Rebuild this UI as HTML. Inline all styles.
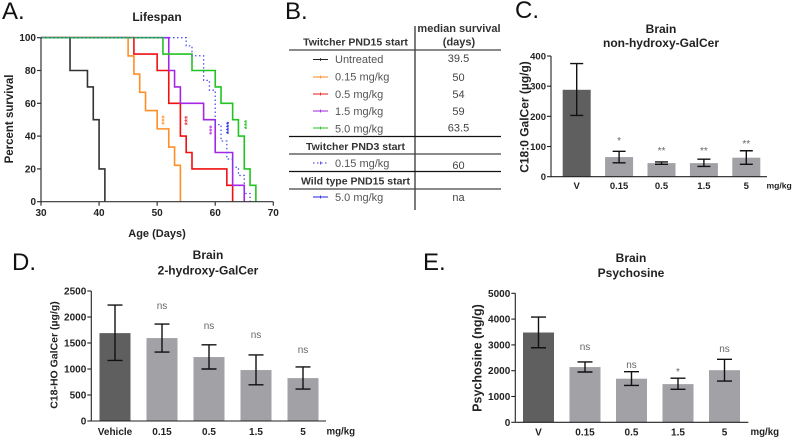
<!DOCTYPE html>
<html lang="en">
<head>
<meta charset="utf-8">
<title>Lifespan and brain lipid figure</title>
<style>
html,body{margin:0;padding:0;background:#fff;width:793px;height:439px;overflow:hidden}
svg{display:block;font-family:"Liberation Sans",sans-serif;filter:blur(0.3px)}
.letter{font-size:24px;fill:#111}
.title{font-size:12px;font-weight:bold;fill:#222;text-anchor:middle}
.tick{font-size:10px;font-weight:bold;fill:#222}
.axt{font-size:11px;font-weight:bold;fill:#222;text-anchor:middle}
.thead{font-size:10.5px;font-weight:bold;fill:#333;text-anchor:middle}
.row{font-size:11px;fill:#555}
.val{font-size:11px;fill:#444;text-anchor:middle}
.sig{font-size:10px;fill:#666;text-anchor:middle}
</style>
</head>
<body>
<svg id="fig" xmlns="http://www.w3.org/2000/svg" width="793" height="439" viewBox="0 0 793 439">
  <text class="letter" x="2" y="19">A.</text>
  <text class="letter" x="285" y="19">B.</text>
  <text class="letter" x="515" y="18">C.</text>
  <text class="letter" x="12" y="270">D.</text>
  <text class="letter" x="423" y="270">E.</text>

  <text class="title" x="157" y="21">Lifespan</text>
  <text class="axt" style="font-size:11.5px" transform="translate(13,119) rotate(-90)">Percent survival</text>
  <text class="axt" x="157" y="237">Age (Days)</text>

  <g id="table-b">
    <line x1="415" y1="26" x2="415" y2="210" stroke="#444" stroke-width="1.4"/>
    <line x1="289" y1="50" x2="501" y2="50" stroke="#444" stroke-width="1.2"/>
    <line x1="289" y1="136.5" x2="501" y2="136.5" stroke="#111" stroke-width="1.2"/>
    <line x1="289" y1="154" x2="501" y2="154" stroke="#444" stroke-width="1.2"/>
    <line x1="289" y1="171.5" x2="501" y2="171.5" stroke="#111" stroke-width="1.2"/>
    <line x1="289" y1="189" x2="501" y2="189" stroke="#444" stroke-width="1.2"/>

    <text class="thead" style="font-size:11px" x="459" y="32">median survival</text>
    <text class="thead" style="font-size:11px" x="459" y="45.5">(days)</text>
    <text class="thead" x="355.5" y="45.5">Twitcher PND15 start</text>
    <text class="thead" x="355.5" y="150">Twitcher PND3 start</text>
    <text class="thead" x="355.5" y="184.5">Wild type PND15 start</text>

    <g>
      <line x1="313" y1="59.5" x2="328" y2="59.5" stroke="#222" stroke-width="1"/><line x1="320.5" y1="58" x2="320.5" y2="61" stroke="#222" stroke-width="0.8"/>
      <text class="row" x="335" y="63">Untreated</text><text class="val" x="458.5" y="62">39.5</text>
    </g>
    <g>
      <line x1="313" y1="77" x2="328" y2="77" stroke="#ff8a1e" stroke-width="1"/><line x1="320.5" y1="75.5" x2="320.5" y2="78.5" stroke="#ff8a1e" stroke-width="0.8"/>
      <text class="row" x="335" y="80.5">0.15 mg/kg</text><text class="val" x="458.5" y="81">50</text>
    </g>
    <g>
      <line x1="313" y1="94" x2="328" y2="94" stroke="#f01818" stroke-width="1"/><line x1="320.5" y1="92.5" x2="320.5" y2="95.5" stroke="#f01818" stroke-width="0.8"/>
      <text class="row" x="335" y="98">0.5 mg/kg</text><text class="val" x="458.5" y="98">54</text>
    </g>
    <g>
      <line x1="313" y1="111" x2="328" y2="111" stroke="#a020e0" stroke-width="1"/><line x1="320.5" y1="109.5" x2="320.5" y2="112.5" stroke="#a020e0" stroke-width="0.8"/>
      <text class="row" x="335" y="115">1.5 mg/kg</text><text class="val" x="458.5" y="115">59</text>
    </g>
    <g>
      <line x1="313" y1="128" x2="328" y2="128" stroke="#20c020" stroke-width="1"/><line x1="320.5" y1="126.5" x2="320.5" y2="129.5" stroke="#20c020" stroke-width="0.8"/>
      <text class="row" x="335" y="132.5">5.0 mg/kg</text><text class="val" x="458.5" y="131.5">63.5</text>
    </g>
    <g>
      <line x1="313" y1="163" x2="328" y2="163" stroke="#3030e0" stroke-width="1" stroke-dasharray="1.5 2.5"/><line x1="320.5" y1="161.5" x2="320.5" y2="164.5" stroke="#3030e0" stroke-width="0.8"/>
      <text class="row" x="335" y="167">0.15 mg/kg</text><text class="val" x="458.5" y="169">60</text>
    </g>
    <g>
      <line x1="313" y1="197" x2="328" y2="197" stroke="#2020e0" stroke-width="1"/><line x1="320.5" y1="195.5" x2="320.5" y2="198.5" stroke="#2020e0" stroke-width="0.8"/>
      <text class="row" x="335" y="201">5.0 mg/kg</text><text class="val" x="458.5" y="201">na</text>
    </g>
  </g>

  <text class="title" x="661" y="33">Brain</text>
  <text class="title" x="661" y="47">non-hydroxy-GalCer</text>
  <text class="axt" style="font-size:12px" transform="translate(528.5,117) rotate(-90)">C18:0 GalCer (µg/g)</text>

  <text class="title" x="208" y="259">Brain</text>
  <text class="title" x="208" y="274.5">2-hydroxy-GalCer</text>
  <text class="axt" style="font-size:10.5px" transform="translate(57.5,355) rotate(-90)">C18-HO GalCer (µg/g)</text>

  <text class="title" x="631" y="262">Brain</text>
  <text class="title" x="631" y="277">Psychosine</text>
  <text class="axt" style="font-size:12.5px" transform="translate(481.5,358) rotate(-90)">Psychosine (ng/g)</text>
</svg>

<script>
// Panel A: survival steps as [age, percent] events
var ageTicks = [30, 40, 50, 60, 70];
var survivalTicks = [0, 20, 40, 60, 80, 100];
var untreatedAges = [35, 38, 39, 40, 41];
var untreatedSurvival = [80, 70, 50, 20, 0];
var dose015Ages = [45, 46, 47, 48, 50, 52, 53, 54];
var dose015Survival = [88.9, 77.8, 66.7, 55.6, 44.4, 33.3, 22.2, 0];
var dose05Ages = [46, 50, 52, 54, 55, 56, 62, 63];
var dose05Survival = [90, 80, 60, 40, 30, 20, 10, 0];
var dose15Ages = [52, 53, 54, 58, 60, 63, 65];
var dose15Survival = [80, 70, 60, 50, 30, 10, 0];
var dose50Ages = [51, 56, 60, 61, 63, 64, 65, 66, 67];
var dose50Survival = [90, 80, 70, 60, 50, 40, 20, 10, 0];
var pnd3Ages = [55, 56, 58, 59, 60, 61, 62, 63, 64, 65, 66];
var pnd3Survival = [95, 89, 74, 68, 47, 37, 26, 21, 16, 5, 0];
var starAges = [51, 55, 59.2, 62.1, 65.2];
var starSurvival = [49.8, 49.5, 43.7, 45, 47];
var starTexts = ['***', '***', '***', '****', '***'];

// Panels C, D, E
var doseLabelsC = ['V', '0.15', '0.5', '1.5', '5'];
var valuesC = [288, 65, 45, 45, 63];
var lowC = [203, 46, 41, 34, 41];
var highC = [375, 84, 49, 58, 86];
var ticksC = [0, 100, 200, 300, 400];
var sigC = ['', '*', '**', '**', '**'];
var sigAtC = [0, 108, 75, 75, 98];

var doseLabelsD = ['Vehicle', '0.15', '0.5', '1.5', '5'];
var valuesD = [1690, 1595, 1230, 980, 825];
var lowD = [1165, 1325, 1000, 695, 615];
var highD = [2230, 1865, 1465, 1270, 1040];
var ticksD = [0, 500, 1000, 1500, 2000, 2500];
var sigD = ['', 'ns', 'ns', 'ns', 'ns'];
var sigAtD = [0, 2154, 1769, 1596, 1308];

var doseLabelsE = ['V', '0.15', '0.5', '1.5', '5'];
var valuesE = [3480, 2140, 1690, 1480, 2020];
var lowE = [2890, 1950, 1430, 1280, 1600];
var highE = [4080, 2340, 1960, 1710, 2440];
var ticksE = [0, 1000, 2000, 3000, 4000, 5000];
var sigE = ['', 'ns', 'ns', '*', 'ns'];
var sigAtE = [0, 2805, 2105, 1833, 2725];

var NS = 'http://www.w3.org/2000/svg';
var fig = document.getElementById('fig');
function mk(tag, attrs, parent, txt) {
  var el = document.createElementNS(NS, tag);
  for (var k in attrs) { el.setAttribute(k, attrs[k]); }
  if (txt !== undefined) { el.textContent = txt; }
  (parent || fig).appendChild(el);
  return el;
}

// ---------- Panel A ----------
var ax = function (v) { return 41 + (v - 30) * (273.3 - 41) / 40; };
var ay = function (v) { return 201.7 - v * (201.7 - 37.7) / 100; };
var gA = mk('g', {});



function stepPath(ages, surv) {
  var d = 'M' + ax(30) + ' ' + ay(100);
  var prev = 100;
  for (var i = 0; i < ages.length; i++) {
    d += 'L' + ax(ages[i]) + ' ' + ay(prev) + 'L' + ax(ages[i]) + ' ' + ay(surv[i]);
    prev = surv[i];
  }
  return d;
}
function addSeries(name, ages, surv, color, width, dash) {
  var p = mk('path', {d: stepPath(ages, surv), fill: 'none', stroke: color, 'stroke-width': width}, gA);
  if (dash) { p.setAttribute('stroke-dasharray', dash); }
  
  
}
addSeries('series-untreated', untreatedAges, untreatedSurvival, '#333333', 1.6);
addSeries('series-0-15-mg-kg', dose015Ages, dose015Survival, '#ff8f24', 1.6);
addSeries('series-0-5-mg-kg', dose05Ages, dose05Survival, '#f01010', 1.6);
addSeries('series-1-5-mg-kg', dose15Ages, dose15Survival, '#a526e6', 1.6);
addSeries('series-5-0-mg-kg', dose50Ages, dose50Survival, '#22c422', 1.6);
addSeries('series-pnd3-0-15-mg-kg', pnd3Ages, pnd3Survival, '#5050f0', 1.3, '1.5 2.5');

var starColors = ['#ff9a3a', '#f03030', '#c040e0', '#2a2ae8', '#30c830'];
starAges.forEach(function (a, i) {
  var s = mk('text', {transform: 'translate(' + (ax(a) + 4.4) + ',' + ay(starSurvival[i]) + ') rotate(-90)', 'text-anchor': 'middle', 'font-size': 8, 'font-weight': 'bold', fill: starColors[i]}, gA, starTexts[i]);
  
  
});

var axA1 = mk('line', {x1: ax(30), y1: ay(0), x2: ax(30), y2: ay(100), stroke: '#333', 'stroke-width': 1.2}, gA);


var axA2 = mk('line', {x1: ax(30), y1: ay(0), x2: ax(70), y2: ay(0), stroke: '#333', 'stroke-width': 1.2}, gA);


ageTicks.forEach(function (t) {
  var m = mk('line', {x1: ax(t), y1: ay(0), x2: ax(t), y2: ay(0) + 4, stroke: '#333', 'stroke-width': 1.2}, gA);
  
  
  var l = mk('text', {x: ax(t), y: 216, 'text-anchor': 'middle', 'class': 'tick'}, gA, t);
  
  
});
survivalTicks.forEach(function (t) {
  var m = mk('line', {x1: ax(30) - 4, y1: ay(t), x2: ax(30), y2: ay(t), stroke: '#333', 'stroke-width': 1.2}, gA);
  
  
  var l = mk('text', {x: ax(30) - 5, y: ay(t) + 3.5, 'text-anchor': 'end', 'class': 'tick'}, gA, t);
  
  
});

// ---------- Bar panels ----------
function barChart(id, cfg, labels, values, low, high, ticks, sig, sigAt) {
  var g = mk('g', {});
  
  
  var y = function (v) { return cfg.y0 - v * (cfg.y0 - cfg.yTop) / cfg.max; };
  var x = function (i) { return cfg.first + i * cfg.step; };

  values.forEach(function (v, i) {
    var b = mk('rect', {x: x(i) - cfg.bw / 2, y: y(v), width: cfg.bw, height: cfg.y0 - y(v), fill: i === 0 ? '#5f5f60' : '#a1a1a6'}, g);
    
    

    var e = mk('path', {
      d: 'M' + x(i) + ' ' + y(low[i]) + 'L' + x(i) + ' ' + y(high[i]) +
         'M' + (x(i) - cfg.cap) + ' ' + y(low[i]) + 'L' + (x(i) + cfg.cap) + ' ' + y(low[i]) +
         'M' + (x(i) - cfg.cap) + ' ' + y(high[i]) + 'L' + (x(i) + cfg.cap) + ' ' + y(high[i]),
      fill: 'none', stroke: '#111', 'stroke-width': 1.4}, g);
    
    

    var l = mk('text', {x: x(i), y: cfg.tickY, 'text-anchor': 'middle', 'class': 'tick', style: 'font-size:' + cfg.tickSize + 'px'}, g, labels[i]);
    
    

    if (sig[i]) {
      var s = mk('text', {x: x(i), y: y(sigAt[i]), 'class': 'sig'}, g, sig[i]);
      
      
    }
  });

  var ya = mk('line', {x1: cfg.axisX, y1: cfg.y0, x2: cfg.axisX, y2: cfg.yTop, stroke: '#222', 'stroke-width': 1.1}, g);
  
  
  var xa = mk('line', {x1: cfg.axisX, y1: cfg.y0, x2: cfg.right, y2: cfg.y0, stroke: '#222', 'stroke-width': 1.1}, g);
  
  

  ticks.forEach(function (t) {
    var m = mk('line', {x1: cfg.axisX - 4, y1: y(t), x2: cfg.axisX, y2: y(t), stroke: '#222', 'stroke-width': 1.1}, g);
    
    
    var l = mk('text', {x: cfg.axisX - 5, y: y(t) + 3.5, 'text-anchor': 'end', 'class': 'tick', style: 'font-size:' + cfg.tickSize + 'px'}, g, t);
    
    
  });

  var u = mk('text', {x: cfg.unitX, y: cfg.tickY - 0.5, 'class': 'tick', style: 'font-size:' + cfg.unitSize + 'px'}, g, 'mg/kg');
  
  
}

barChart('chart-c', {y0: 176.7, yTop: 56, max: 400, first: 576.7, step: 42.4, bw: 28, cap: 6.5, axisX: 551, right: 767, tickY: 189, unitX: 766.5, tickSize: 9.5, unitSize: 8.6},
  doseLabelsC, valuesC, lowC, highC, ticksC, sigC, sigAtC);
barChart('chart-d', {y0: 421, yTop: 291, max: 2500, first: 115, step: 47, bw: 31, cap: 7.5, axisX: 91.3, right: 326, tickY: 435, unitX: 326.5, tickSize: 10, unitSize: 9.7},
  doseLabelsD, valuesD, lowD, highD, ticksD, sigD, sigAtD);
barChart('chart-e', {y0: 422.3, yTop: 293.3, max: 5000, first: 538.5, step: 46.5, bw: 31, cap: 7.5, axisX: 515.3, right: 748.3, tickY: 435.5, unitX: 750.5, tickSize: 10, unitSize: 9.7},
  doseLabelsE, valuesE, lowE, highE, ticksE, sigE, sigAtE);
</script>
</body>
</html>
